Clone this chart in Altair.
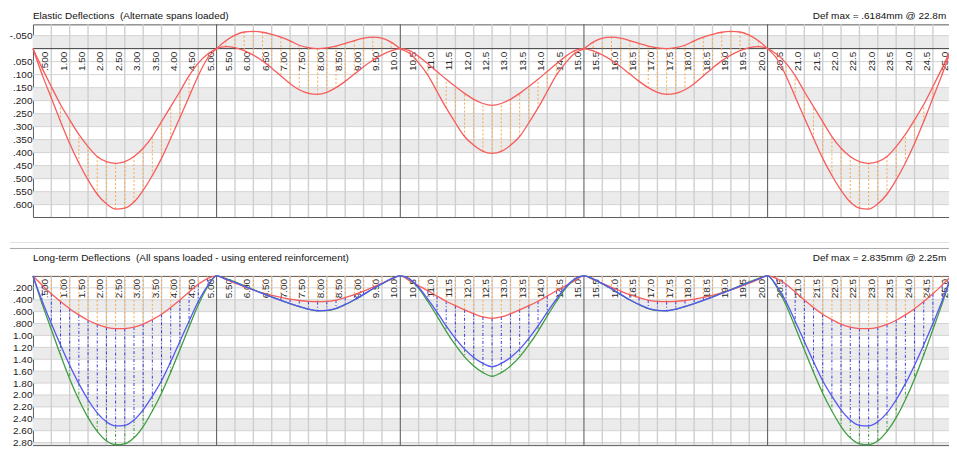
import altair as alt
import pandas as pd

FONT = "Liberation Sans"

# ---------------- data ----------------
x_pos = [i * 0.25 for i in range(101)]          # stations along the beam (m)

elastic_a = [0, 0.100, 0.190, 0.280, 0.365, 0.440, 0.505, 0.560, 0.597, 0.617, 0.613, 0.590, 0.545, 0.488, 0.422, 0.345, 0.266, 0.185, 0.104, 0.038, 0,
             -0.030, -0.052, -0.064, -0.066, -0.063, -0.055, -0.044, -0.030, -0.013, -0.004, 0.000, -0.003, -0.010, -0.020, -0.031, -0.040, -0.044, -0.040, -0.025, 0,
             0.018, 0.055, 0.102, 0.165, 0.228, 0.285, 0.338, 0.372, 0.395, 0.403, 0.395, 0.372, 0.338, 0.285, 0.228, 0.165, 0.102, 0.055, 0.018, 0,
             -0.025, -0.040, -0.044, -0.040, -0.031, -0.020, -0.010, -0.003, 0.000, -0.004, -0.013, -0.030, -0.044, -0.055, -0.063, -0.066, -0.064, -0.052, -0.030, 0,
             0.038, 0.104, 0.185, 0.266, 0.345, 0.422, 0.488, 0.545, 0.590, 0.613, 0.617, 0.597, 0.560, 0.505, 0.440, 0.365, 0.280, 0.190, 0.100, 0]

elastic_b = [0, 0.075, 0.146, 0.215, 0.274, 0.330, 0.377, 0.415, 0.435, 0.441, 0.435, 0.415, 0.383, 0.338, 0.281, 0.223, 0.165, 0.104, 0.056, 0.022, 0,
             -0.008, -0.004, 0.008, 0.025, 0.047, 0.075, 0.105, 0.135, 0.158, 0.172, 0.176, 0.168, 0.150, 0.126, 0.098, 0.070, 0.045, 0.024, 0.009, 0,
             0.008, 0.030, 0.058, 0.088, 0.118, 0.146, 0.172, 0.195, 0.211, 0.218, 0.211, 0.195, 0.172, 0.146, 0.118, 0.088, 0.058, 0.030, 0.008, 0,
             0.009, 0.024, 0.045, 0.070, 0.098, 0.126, 0.150, 0.168, 0.176, 0.172, 0.158, 0.135, 0.105, 0.075, 0.047, 0.025, 0.008, -0.004, -0.008, 0,
             0.022, 0.056, 0.104, 0.165, 0.223, 0.281, 0.338, 0.383, 0.415, 0.435, 0.441, 0.435, 0.415, 0.377, 0.330, 0.274, 0.215, 0.146, 0.075, 0]

longterm_red = [0, 0.155, 0.300, 0.430, 0.550, 0.655, 0.745, 0.815, 0.865, 0.886, 0.884, 0.860, 0.810, 0.735, 0.645, 0.530, 0.405, 0.270, 0.140, 0.045, 0,
                0.060, 0.120, 0.180, 0.235, 0.285, 0.325, 0.360, 0.390, 0.413, 0.428, 0.433, 0.428, 0.405, 0.365, 0.315, 0.255, 0.190, 0.125, 0.058, 0,
                0.080, 0.165, 0.250, 0.340, 0.425, 0.500, 0.570, 0.635, 0.690, 0.714, 0.690, 0.635, 0.570, 0.500, 0.425, 0.340, 0.250, 0.165, 0.080, 0,
                0.058, 0.125, 0.190, 0.255, 0.315, 0.365, 0.405, 0.428, 0.433, 0.428, 0.413, 0.390, 0.360, 0.325, 0.285, 0.235, 0.180, 0.120, 0.060, 0,
                0.045, 0.140, 0.270, 0.405, 0.530, 0.645, 0.735, 0.810, 0.860, 0.884, 0.886, 0.865, 0.815, 0.745, 0.655, 0.550, 0.430, 0.300, 0.155, 0]

longterm_blue = [0, 0.42, 0.80, 1.16, 1.50, 1.81, 2.08, 2.30, 2.45, 2.52, 2.51, 2.42, 2.25, 2.02, 1.76, 1.44, 1.10, 0.76, 0.43, 0.17, 0,
                 0.05, 0.11, 0.17, 0.235, 0.295, 0.355, 0.41, 0.465, 0.515, 0.56, 0.585, 0.578, 0.545, 0.48, 0.40, 0.31, 0.215, 0.13, 0.05, 0,
                 0.05, 0.19, 0.39, 0.61, 0.84, 1.05, 1.23, 1.37, 1.47, 1.525, 1.47, 1.37, 1.23, 1.05, 0.84, 0.61, 0.39, 0.19, 0.05, 0,
                 0.05, 0.13, 0.215, 0.31, 0.40, 0.48, 0.545, 0.578, 0.585, 0.56, 0.515, 0.465, 0.41, 0.355, 0.295, 0.235, 0.17, 0.11, 0.05, 0,
                 0.17, 0.43, 0.76, 1.10, 1.44, 1.76, 2.02, 2.25, 2.42, 2.51, 2.52, 2.45, 2.30, 2.08, 1.81, 1.50, 1.16, 0.80, 0.42, 0]

longterm_green = [0, 0.47, 0.90, 1.33, 1.73, 2.08, 2.38, 2.61, 2.77, 2.835, 2.82, 2.72, 2.53, 2.27, 1.97, 1.62, 1.24, 0.86, 0.49, 0.19, 0,
                  0.045, 0.10, 0.165, 0.23, 0.29, 0.35, 0.41, 0.465, 0.515, 0.56, 0.585, 0.583, 0.55, 0.485, 0.405, 0.315, 0.22, 0.135, 0.055, 0,
                  0.055, 0.21, 0.43, 0.675, 0.93, 1.16, 1.36, 1.515, 1.625, 1.687, 1.625, 1.515, 1.36, 1.16, 0.93, 0.675, 0.43, 0.21, 0.055, 0,
                  0.055, 0.135, 0.22, 0.315, 0.405, 0.485, 0.55, 0.583, 0.585, 0.56, 0.515, 0.465, 0.41, 0.35, 0.29, 0.23, 0.165, 0.10, 0.045, 0,
                  0.19, 0.49, 0.86, 1.24, 1.62, 1.97, 2.27, 2.53, 2.72, 2.82, 2.835, 2.77, 2.61, 2.38, 2.08, 1.73, 1.33, 0.90, 0.47, 0]

x_tick_values = [k * 0.5 for k in range(1, 51)]
x_tick_labels = [".500", "1.00", "1.50", "2.00", "2.50", "3.00", "3.50", "4.00", "4.50", "5.00",
                 "5.50", "6.00", "6.50", "7.00", "7.50", "8.00", "8.50", "9.00", "9.50", "10.0",
                 "10.5", "11.0", "11.5", "12.0", "12.5", "13.0", "13.5", "14.0", "14.5", "15.0",
                 "15.5", "16.0", "16.5", "17.0", "17.5", "18.0", "18.5", "19.0", "19.5", "20.0",
                 "20.5", "21.0", "21.5", "22.0", "22.5", "23.0", "23.5", "24.0", "24.5", "25.0"]
supports = [5.0, 10.0, 15.0, 20.0]

top_ticks = [-0.05, 0.05, 0.10, 0.15, 0.20, 0.25, 0.30, 0.35, 0.40, 0.45, 0.50, 0.55, 0.60]
top_band_from = [-0.05, 0.15, 0.25, 0.35, 0.45, 0.55]
top_band_to = [0.0, 0.20, 0.30, 0.40, 0.50, 0.60]
bot_ticks = [0.2, 0.4, 0.6, 0.8, 1.0, 1.2, 1.4, 1.6, 1.8, 2.0, 2.2, 2.4, 2.6, 2.8]
bot_band_from = [0.4, 0.8, 1.2, 1.6, 2.0, 2.4, 2.8]
bot_band_to = [0.6, 1.0, 1.4, 1.8, 2.2, 2.6, 2.842]

top_title = "Elastic Deflections\u00a0 (Alternate spans loaded)"
top_note = "Def max = .6184mm @ 22.8m"
bot_title = "Long-term Deflections\u00a0 (All spans loaded - using entered reinforcement)"
bot_note = "Def max = 2.835mm @ 2.25m"

# ---------------- layout / style ----------------
XMAX = 25.4
W = 934.7            # 36.8 px per metre
NOTE_AT = 21.23
TOP_DOM = [-0.0933, 0.6476]
TOP_H = 193
BOT_DOM = [0.0, 2.842]
BOT_H = 169.5

RED = "#f75c5c"
BLUE = "#5656f5"
GREEN = "#3f9e3f"
ORANGE = "#ffa64a"

xs = alt.Scale(domain=[0, XMAX], nice=False, zero=False)


def XF(f):
    return alt.X(f, type="quantitative", scale=xs, axis=None)


def XD(v):
    return alt.XDatum(v, type="quantitative", scale=xs, axis=None)


def panel(dom, h, ticks, expr, bf, bt, curves, connectors, title, note, title_dy, extra=None):
    ys = alt.Scale(domain=dom, reverse=True, nice=False, zero=False)
    ax = alt.Axis(values=ticks, labelExpr=expr, grid=False, domain=False, ticks=False,
                  labelPadding=1, labelFont=FONT, labelFontSize=10, labelColor="#222222",
                  title=None)

    def YF(f):
        return alt.Y(f, type="quantitative", scale=ys, axis=ax)

    def YD(v):
        return alt.YDatum(v, type="quantitative", scale=ys, axis=ax)

    layers = []
    if extra is not None:
        layers += extra
    bands = pd.DataFrame({"y": bf, "y2": bt})
    layers.append(alt.Chart(bands).mark_rect(color="#ebebeb").encode(
        x=XD(0), x2=alt.datum(XMAX), y=YF("y"), y2=alt.Y2("y2")))
    hg = pd.DataFrame({"y": ticks})
    layers.append(alt.Chart(hg).mark_rule(color="#d4d4d4", strokeWidth=1).encode(
        x=XD(0), x2=alt.datum(XMAX), y=YF("y")))
    vg = pd.DataFrame({"x": [v for v in x_tick_values if v not in supports]})
    layers.append(alt.Chart(vg).mark_rule(color="#cfcfcf", strokeWidth=1.4).encode(
        x=XF("x"), y=YD(dom[0]), y2=alt.datum(dom[1])))
    sp = pd.DataFrame({"x": supports})
    layers.append(alt.Chart(sp).mark_rule(color="#555555", strokeWidth=1).encode(
        x=XF("x"), y=YD(dom[0]), y2=alt.datum(dom[1])))
    if dom[0] < 0:
        layers.append(alt.Chart(pd.DataFrame({"z": [0]})).mark_rule(color="#3c3c3c", strokeWidth=1).encode(
            x=XD(0), x2=alt.datum(XMAX), y=YD(0.0)))
    for lo, hi, col, dash in connectors:
        df = pd.DataFrame({"x": x_pos, "y": lo, "y2": hi})
        layers.append(alt.Chart(df).mark_rule(color=col, strokeWidth=1, strokeDash=dash).encode(
            x=XF("x"), y=YF("y"), y2=alt.Y2("y2")))
    lab = pd.DataFrame({"x": x_tick_values, "label": x_tick_labels})
    layers.append(alt.Chart(lab).mark_text(angle=270, align="right", baseline="alphabetic",
                                           dx=-3, dy=-3, font=FONT, fontSize=10, color="#2a2a2a").encode(
        x=XF("x"), y=YD(0.0), text="label:N"))
    for vals, col in curves:
        df = pd.DataFrame({"x": x_pos, "d": vals})
        layers.append(alt.Chart(df).mark_line(color=col, strokeWidth=1.3, interpolate="monotone").encode(
            x=XF("x"), y=YF("d")))
    layers.append(alt.Chart(pd.DataFrame({"t": [0]})).mark_text(
        align="left", baseline="alphabetic", dy=title_dy, font=FONT, fontSize=10, color="#111111").encode(
        x=XD(0.0), y=YD(dom[0]), text=alt.value(title)))
    layers.append(alt.Chart(pd.DataFrame({"t": [0]})).mark_text(
        align="left", baseline="alphabetic", dy=title_dy, font=FONT, fontSize=10, color="#111111").encode(
        x=XD(NOTE_AT), y=YD(dom[0]), text=alt.value(note)))
    return alt.layer(*layers).properties(width=W, height=h)


top_expr = ("datum.value < 0 ? '-' + replace(format(-datum.value, '.3f'), '0.', '.') : "
            "replace(format(datum.value, '.3f'), '0.', '.')")
bot_expr = ("datum.value < 1 ? replace(format(datum.value, '.3f'), '0.', '.') : "
            "format(datum.value, '.2f')")

top = panel(TOP_DOM, TOP_H, top_ticks, top_expr, top_band_from, top_band_to,
            curves=[(elastic_b, RED), (elastic_a, RED)],
            connectors=[(elastic_a, elastic_b, ORANGE, [2, 2])],
            title=top_title, note=top_note, title_dy=-5)

frame = [
    alt.Chart(pd.DataFrame({"f": [0]})).mark_rule(color="#e2e2e2", strokeWidth=1).encode(
        x=alt.value(-23), x2=alt.value(W), y=alt.value(-33.5)),
    alt.Chart(pd.DataFrame({"f": [0]})).mark_rule(color="#a8a8a8", strokeWidth=1).encode(
        x=alt.value(-23), x2=alt.value(W), y=alt.value(-27.5)),
]

bottom = panel(BOT_DOM, BOT_H, bot_ticks, bot_expr, bot_band_from, bot_band_to,
               curves=[(longterm_red, RED), (longterm_green, GREEN), (longterm_blue, BLUE)],
               connectors=[([0.0] * 101, longterm_red, ORANGE, [2, 2]),
                           (longterm_red, longterm_blue, "#3a3ae8", [3, 2, 1, 2]),
                           (longterm_blue, longterm_green, "#3d963d", [3, 2, 1, 2])],
               title=bot_title, note=bot_note, title_dy=-14.5, extra=frame)

# the reference window cuts the drawing off on the right
chart = alt.vconcat(top, bottom, spacing=22).properties(
    padding={"top": 2, "left": 0, "right": -18, "bottom": -1}
).configure_view(stroke="#5a5a5a", strokeWidth=1)

chart.save("out.html", embed_options={"renderer": "svg", "actions": False})
